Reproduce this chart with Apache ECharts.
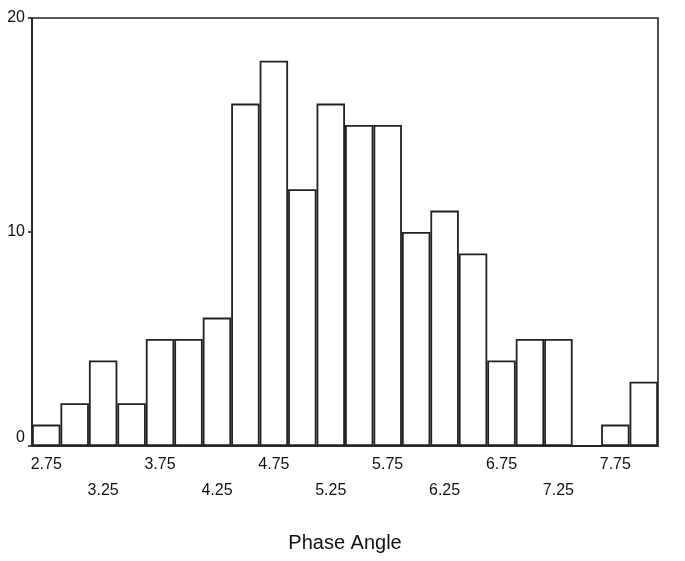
<!DOCTYPE html>
<html>
<head>
<meta charset="utf-8">
<script src="https://cdn.jsdelivr.net/npm/echarts@6/dist/echarts.min.js"></script>
<style>
  html, body { margin: 0; padding: 0; background: #fff; }
  #chart { width: 685px; height: 561px; }
</style>
</head>
<body>
<div id="chart"></div>
<script>
// bin centres of the histogram (width 0.25)
const bins = ['2.75', '3.00', '3.25', '3.50', '3.75', '4.00', '4.25', '4.50', '4.75', '5.00', '5.25',
  '5.50', '5.75', '6.00', '6.25', '6.50', '6.75', '7.00', '7.25', '7.50', '7.75', '8.00']
const counts = [1, 2, 4, 2, 5, 5, 6, 16, 18, 12, 16, 15, 15, 10, 11, 9, 4, 5, 5, 0, 1, 3]
const yTicks = [0, 10, 20]

const font = 'Liberation Sans, Arial, sans-serif'
const chart = echarts.init(document.getElementById('chart'))

chart.setOption({
  animation: false,
  grid: {
    left: 32,
    right: 27,
    top: 18,
    bottom: 115,
    show: true,
    borderColor: '#222',
    borderWidth: 1.6,
  },
  xAxis: {
    type: 'category',
    data: bins,
    boundaryGap: true,
    name: 'Phase Angle',
    nameLocation: 'middle',
    nameGap: 87,
    nameTextStyle: { fontFamily: font, fontSize: 20, color: '#111' },
    axisLine: { lineStyle: { color: '#222', width: 1.6 } },
    axisTick: {
      alignWithLabel: true,
      length: 4,
      interval: (i) => i % 2 === 0,
      lineStyle: { color: '#222', width: 1.6 },
    },
    axisLabel: {
      interval: 0,
      margin: 6,
      fontFamily: font,
      fontSize: 16,
      color: '#111',
      lineHeight: 26,
      formatter: (v, i) => {
        if (i % 4 === 0) return v
        if (i % 4 === 2) return '\n' + v
        return ''
      },
    },
    splitLine: { show: false },
  },
  yAxis: {
    type: 'value',
    min: yTicks[0],
    max: yTicks[yTicks.length - 1],
    interval: 10,
    axisLine: { show: true, lineStyle: { color: '#222', width: 1.6 } },
    axisTick: { show: true, length: 4, lineStyle: { color: '#222', width: 1.6 } },
    axisLabel: {
      margin: 7,
      fontFamily: font,
      fontSize: 16,
      color: '#111',
      verticalAlignMinLabel: 'bottom',
    },
    splitLine: { show: false },
  },
  series: [
    {
      type: 'bar',
      data: counts,
      barCategoryGap: 0,
      itemStyle: {
        color: '#fff',
        borderColor: '#222',
        borderWidth: 1.8,
      },
    },
  ],
})
</script>
</body>
</html>
